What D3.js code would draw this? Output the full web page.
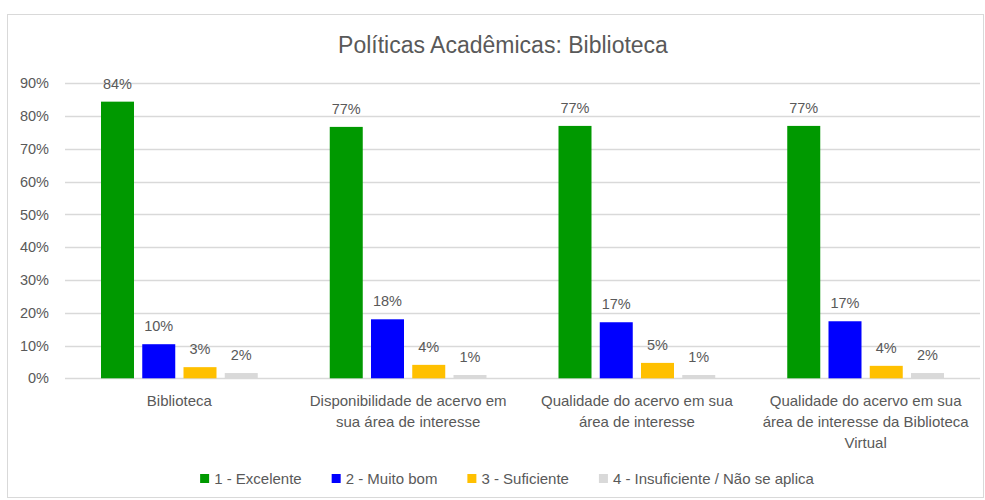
<!DOCTYPE html>
<html lang="en">
<head>
 <meta charset="UTF-8" />
 <title>Políticas Acadêmicas: Biblioteca</title>
 <script src="https://d3js.org/d3.v7.min.js"></script>
 <style>
   body { margin: 0; background: #fff; }
   svg { display: block; font-family: "Liberation Sans", Arial, sans-serif; }
 </style>
</head>
<body>
 <svg id="chart" width="985" height="500"></svg>

 <script>
   // data (percent)
   const categories = [
     ["Biblioteca"],
     ["Disponibilidade de acervo em", "sua área de interesse"],
     ["Qualidade do acervo em sua", "área de interesse"],
     ["Qualidade do acervo em sua", "área de interesse da Biblioteca", "Virtual"]
   ];
   const seriesNames = ["1 - Excelente", "2 - Muito bom", "3 - Suficiente", "4 - Insuficiente / Não se aplica"];
   const excelente   = [84.4, 76.7, 77.0, 77.0];
   const muitoBom    = [10.4, 18.0, 17.1, 17.4];
   const suficiente  = [3.4, 4.1, 4.7, 3.8];
   const insuf       = [1.6, 1.0, 1.0, 1.6];
   const yTicks      = [0, 10, 20, 30, 40, 50, 60, 70, 80, 90];
   const colors      = ["#009900", "#0000ff", "#ffc000", "#d9d9d9"];

   const values = [excelente, muitoBom, suficiente, insuf];
   const textColor = "#595959";

   const svg = d3.select("#chart");

   // chart frame
   svg.append("rect")
     .attr("x", 7.5).attr("y", 14.5)
     .attr("width", 976).attr("height", 483)
     .attr("fill", "#fff")
     .attr("stroke", "#d9d9d9");

   svg.append("text")
     .attr("x", 503).attr("y", 53)
     .attr("text-anchor", "middle")
     .attr("font-size", "23px")
     .attr("fill", textColor)
     .text("Políticas Acadêmicas: Biblioteca");

   const x0 = d3.scaleBand()
     .domain(d3.range(categories.length))
     .range([65, 980]);

   const x1 = d3.scaleBand()
     .domain(d3.range(seriesNames.length))
     .range([36, x0.bandwidth() - 36])
     .paddingInner(0.2);

   const y = d3.scaleLinear()
     .domain([0, 90])
     .range([378.3, 83.3]);

   // gridlines
   svg.append("g")
     .selectAll("line")
     .data(yTicks)
     .join("line")
       .attr("x1", 65).attr("x2", 980)
       .attr("y1", d => Math.round(y(d)) + 0.5)
       .attr("y2", d => Math.round(y(d)) + 0.5)
       .attr("stroke", "#d9d9d9")
       .attr("stroke-width", 1.5);

   // y axis labels
   const yAxis = d3.axisLeft(y)
     .tickValues(yTicks)
     .tickSize(0)
     .tickPadding(0)
     .tickFormat(d => d + "%");

   const yg = svg.append("g")
     .attr("transform", "translate(49,0)")
     .call(yAxis);
   yg.select(".domain").remove();
   yg.selectAll("text")
     .attr("font-size", "14.5px")
     .attr("font-family", "Liberation Sans, Arial, sans-serif")
     .attr("fill", textColor);

   // bars
   const groups = svg.append("g")
     .selectAll("g")
     .data(categories.map((c, i) => i))
     .join("g")
       .attr("transform", i => `translate(${x0(i)},0)`);

   groups.selectAll("rect")
     .data(i => values.map((s, k) => ({ k, v: s[i] })))
     .join("rect")
       .attr("x", d => x1(d.k))
       .attr("width", x1.bandwidth())
       .attr("y", d => y(d.v))
       .attr("height", d => y(0) - y(d.v))
       .attr("fill", d => colors[d.k]);

   groups.selectAll("text.val")
     .data(i => values.map((s, k) => ({ k, v: s[i] })))
     .join("text")
       .attr("class", "val")
       .attr("x", d => x1(d.k) + x1.bandwidth() / 2)
       .attr("y", d => y(d.v) - 13)
       .attr("text-anchor", "middle")
       .attr("font-size", "14.5px")
       .attr("fill", textColor)
       .text(d => Math.round(d.v) + "%");

   // category labels
   const catLabels = svg.append("g")
     .selectAll("text")
     .data(categories)
     .join("text")
       .attr("x", (d, i) => x0(i) + x0.bandwidth() / 2)
       .attr("y", 406)
       .attr("text-anchor", "middle")
       .attr("font-size", "15px")
       .attr("fill", textColor);

   catLabels.selectAll("tspan")
     .data(d => d)
     .join("tspan")
       .attr("x", function () { return this.parentNode.getAttribute("x"); })
       .attr("dy", (d, i) => i === 0 ? 0 : 21)
       .text(d => d);

   // legend
   const legend = svg.append("g");
   let lx = 0;
   seriesNames.forEach((name, i) => {
     const item = legend.append("g").attr("transform", `translate(${lx},0)`);
     item.append("rect")
       .attr("x", 0).attr("y", -5)
       .attr("width", 9).attr("height", 9)
       .attr("fill", colors[i]);
     const t = item.append("text")
       .attr("x", 14).attr("y", 0)
       .attr("dy", "0.35em")
       .attr("font-size", "15px")
       .attr("fill", textColor)
       .text(name);
     lx += 14 + t.node().getComputedTextLength() + 30;
   });
   const legendW = lx - 30;
   legend.attr("transform", `translate(${507 - legendW / 2},479)`);
 </script>
</body>
</html>
